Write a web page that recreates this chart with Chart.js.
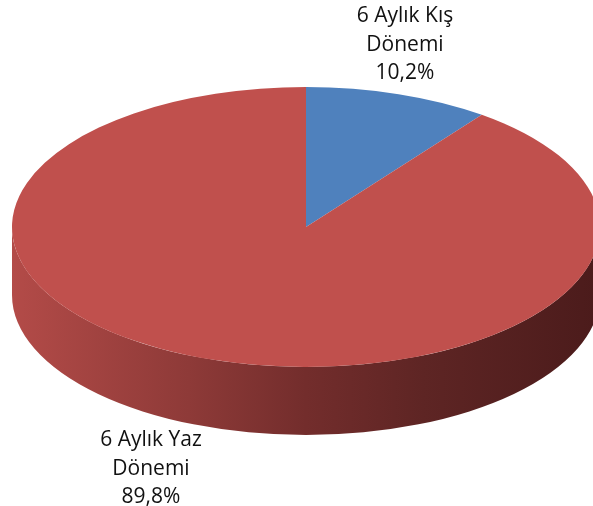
<!DOCTYPE html>
<html>
<head>
<meta charset="utf-8">
<script src="https://cdn.jsdelivr.net/npm/chart.js@4.4.1/dist/chart.umd.min.js"></script>
<style>
    html, body { margin: 0; padding: 0; background: #ffffff; }
    canvas { display: block; }
</style>
</head>
<body>
<canvas id="season-chart" width="593" height="506"></canvas>
<script>
// chart data
const seasonLabels = [['6 Aylık Kış', 'Dönemi'], ['6 Aylık Yaz', 'Dönemi']];
const seasonValues = [10.2, 89.8];
const seasonColors = ['#4f81bd', '#c0504d'];

// 3d look: ellipse centre, radii and side depth in screen pixels
const tilt = { cx: 306, cy: 227, rx: 294, ry: 140, depth: 68 };
// baseline of the first line of each label
const labelSpots = [{ x: 405, y: 22 }, { x: 151, y: 446 }];

function clipFront(start, end) {
    // keep the part of [start, end] that faces the viewer (0..PI)
    const out = [];
    const TWO_PI = Math.PI * 2;
    for (let k = -1; k <= 1; k++) {
        const s = Math.max(start, k * TWO_PI);
        const e = Math.min(end, k * TWO_PI + Math.PI);
        if (e > s) out.push([s, e]);
    }
    return out;
}

const pie3d = {
    id: 'pie3d',
    beforeDatasetsDraw(chart) {
        const ctx = chart.ctx;
        const arcs = chart.getDatasetMeta(0).data;
        const first = arcs[0];
        const r0 = first.outerRadius;

        const grad = ctx.createLinearGradient(tilt.cx - tilt.rx, 0, tilt.cx + tilt.rx, 0);
        grad.addColorStop(0, '#b34b48');
        grad.addColorStop(0.3, '#8e3a38');
        grad.addColorStop(0.5, '#732d2c');
        grad.addColorStop(0.7, '#5e2524');
        grad.addColorStop(1, '#4b1b1b');

        arcs.forEach(arc => {
            clipFront(arc.startAngle, arc.endAngle).forEach(([s, e]) => {
                ctx.save();
                ctx.beginPath();
                ctx.ellipse(tilt.cx, tilt.cy, tilt.rx, tilt.ry, 0, s, e);
                ctx.ellipse(tilt.cx, tilt.cy + tilt.depth, tilt.rx, tilt.ry, 0, e, s, true);
                ctx.closePath();
                ctx.fillStyle = grad;
                ctx.fill();
                ctx.restore();
            });
        });

        ctx.save();
        ctx.translate(tilt.cx, tilt.cy);
        ctx.scale(tilt.rx / r0, tilt.ry / r0);
        ctx.translate(-first.x, -first.y);
    },
    afterDatasetsDraw(chart) {
        chart.ctx.restore();
    },
    afterDraw(chart) {
        const ctx = chart.ctx;
        ctx.save();
        ctx.fillStyle = '#111111';
        ctx.font = '21px "Open Sans", sans-serif';
        ctx.textAlign = 'center';
        ctx.textBaseline = 'alphabetic';
        seasonLabels.forEach((lines, i) => {
            const spot = labelSpots[i];
            const text = lines.concat([seasonValues[i].toFixed(1).replace('.', ',') + '%']);
            text.forEach((line, j) => {
                ctx.fillText(line, spot.x, spot.y + j * 28.5);
            });
        });
        ctx.restore();
    }
};

new Chart(document.getElementById('season-chart'), {
    type: 'pie',
    data: {
        labels: seasonLabels.map(l => l.join(' ')),
        datasets: [{
            data: seasonValues,
            backgroundColor: seasonColors,
            borderWidth: 0
        }]
    },
    options: {
        responsive: false,
        animation: false,
        plugins: {
            legend: { display: false },
            tooltip: { enabled: false }
        }
    },
    plugins: [pie3d]
});
</script>
</body>
</html>
